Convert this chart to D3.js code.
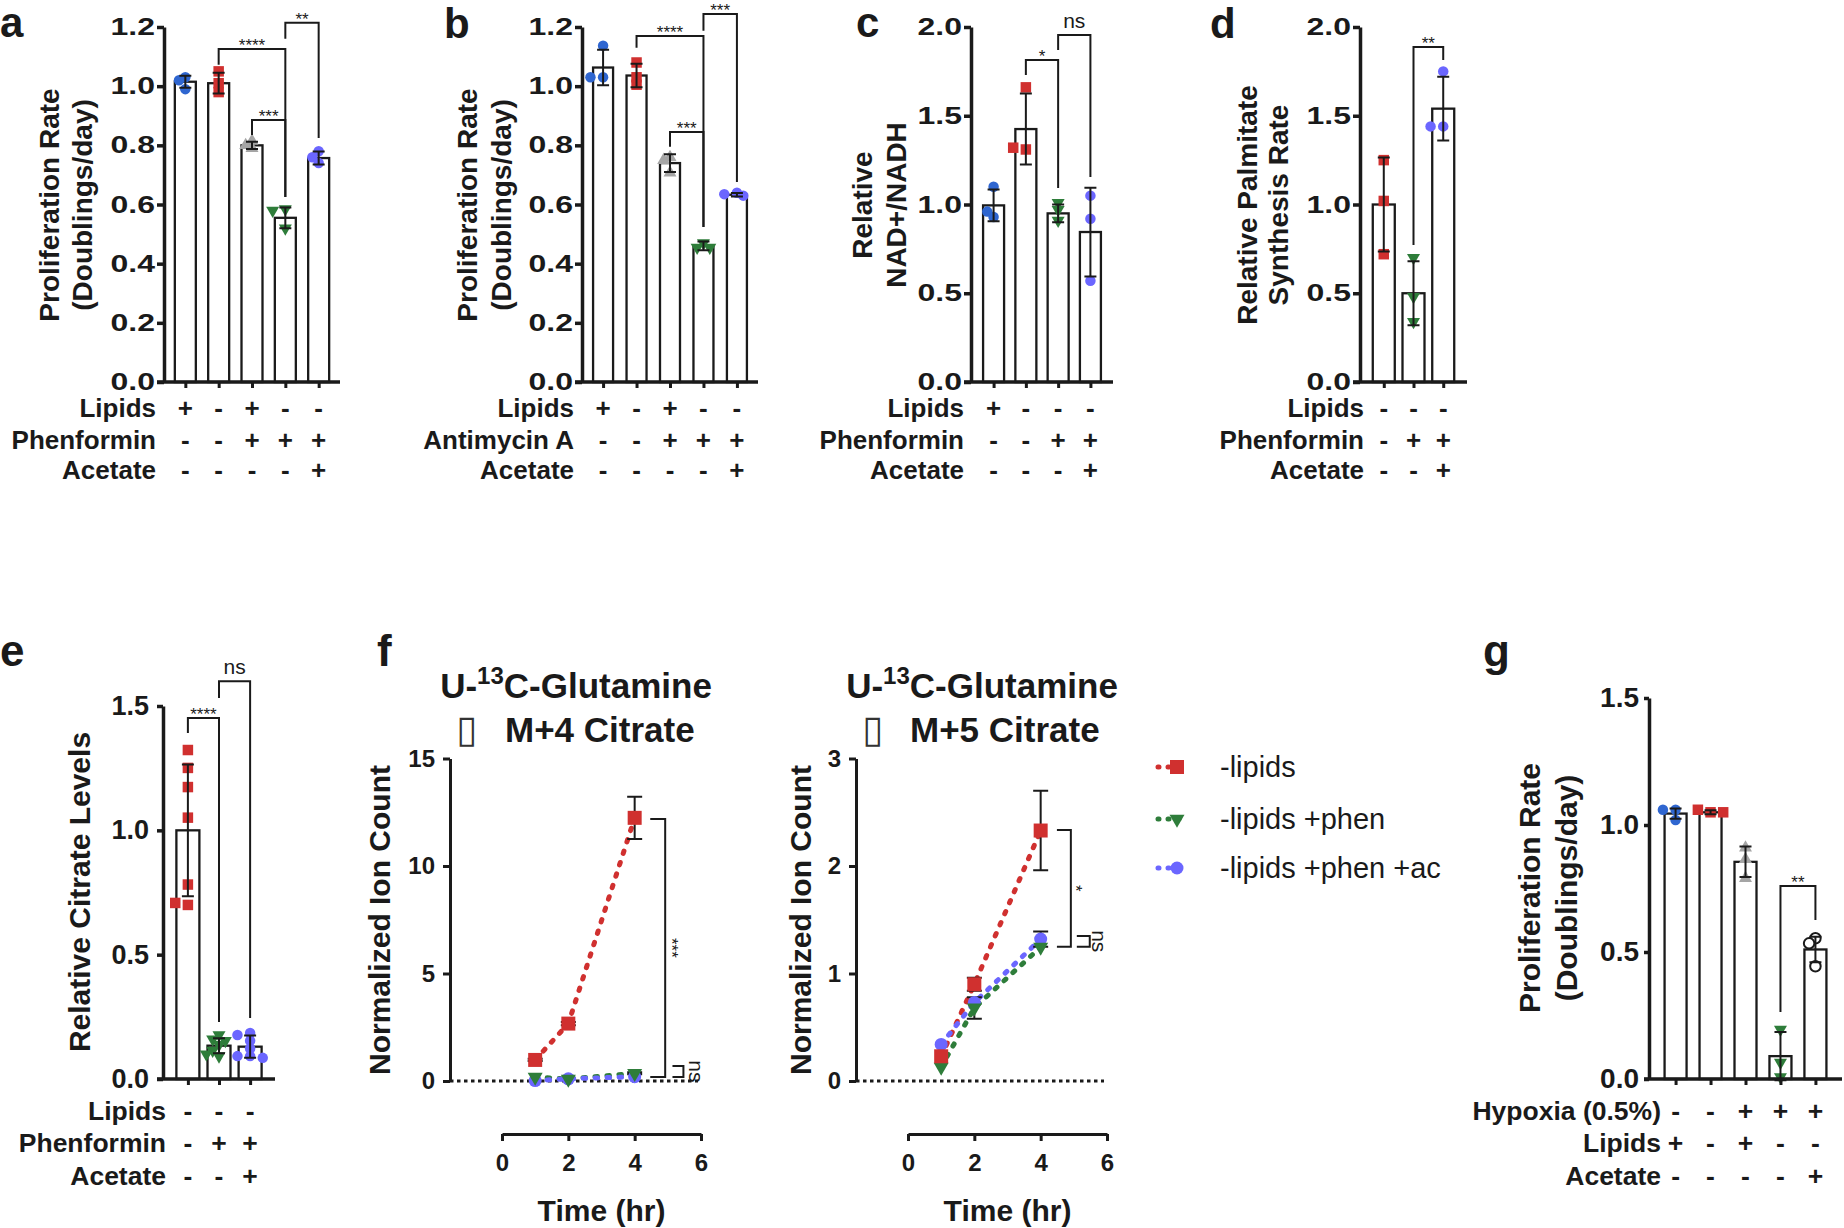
<!DOCTYPE html>
<html><head><meta charset="utf-8">
<script src="https://cdn.jsdelivr.net/npm/d3@7"></script>
<style>
body{margin:0;background:#fff;}
text{font-family:"Liberation Sans",Arial,Helvetica,sans-serif;fill:#1a1a1a;}
</style></head>
<body><svg id="fig" width="1844" height="1228"></svg>
<script>
// ================= DATA =================
const ticks12 = [0,0.2,0.4,0.6,0.8,1.0,1.2];
const ticks20 = [0,0.5,1.0,1.5,2.0];
const ticks15 = [0,0.5,1.0,1.5];

// panel a
const aGroups = ["ctrl","noLip","phenLip","phen","phenAc"];
const aMeans  = [1.015,1.01,0.80,0.555,0.757];
const aErr    = [0.02,0.035,0.012,0.035,0.022];
const aPoints = [[1.03,1.02,0.99],[1.05,1.01,0.98],[0.815,0.80,0.79],[0.585,0.58,0.52],[0.78,0.76,0.74]];
const aRowNames = ["Lipids","Phenformin","Acetate"];
const aRowSigns = [["+","-","+","-","-"],["-","-","+","+","+"],["-","-","-","-","+"]];
const aSig = [{from:1,to:3,top:1.126,l:1.072,r:0.625,text:"****"},
              {from:2,to:3,top:0.886,l:0.835,r:0.625,text:"***"},
              {from:3,to:4,top:1.214,l:1.16,r:0.825,text:"**"}];
const aYLabel = ["Proliferation Rate","(Doublings/day)"];

// panel b
const bGroups = ["ctrl","noLip","phenLip","phen","phenAc"];
const bMeans  = [1.063,1.036,0.74,0.46,0.633];
const bErr    = [0.06,0.04,0.03,0.015,0.006];
const bPoints = [[1.137,1.03,1.03],[1.08,1.005,1.03],[0.76,0.75,0.707],[0.47,0.455,0.455],[0.64,0.635,0.63]];
const bRowNames = ["Lipids","Antimycin A","Acetate"];
const bRowSigns = [["+","-","+","-","-"],["-","-","+","+","+"],["-","-","-","-","+"]];
const bSig = [{from:1,to:3,top:1.17,l:1.13,r:0.524,text:"****"},
              {from:2,to:3,top:0.845,l:0.795,r:0.524,text:"***"},
              {from:3,to:4,top:1.244,l:1.187,r:0.676,text:"***"}];
const bYLabel = ["Proliferation Rate","(Doublings/day)"];

// panel c
const cGroups = ["ctrl","noLip","phen","phenAc"];
const cMeans  = [0.995,1.425,0.95,0.845];
const cErr    = [0.09,0.2,0.05,0.25];
const cPoints = [[1.10,0.93,0.96],[1.66,1.31,1.32],[1.01,0.97,0.91],[1.05,0.92,0.57]];
const cRowNames = ["Lipids","Phenformin","Acetate"];
const cRowSigns = [["+","-","-","-"],["-","-","+","+"],["-","-","-","+"]];
const cSig = [{from:1,to:2,top:1.814,l:1.73,r:1.093,text:"*"},
              {from:2,to:3,top:1.955,l:1.87,r:1.155,text:"ns"}];
const cYLabel = ["Relative","NAD+/NADH"];

// panel d
const dGroups = ["noLip","phen","phenAc"];
const dMeans  = [1.0,0.5,1.54];
const dErr    = [0.265,0.18,0.18];
const dPoints = [[1.25,1.02,0.72],[0.70,0.48,0.34],[1.75,1.44,1.44]];
const dRowNames = ["Lipids","Phenformin","Acetate"];
const dRowSigns = [["-","-","-"],["-","+","+"],["-","-","+"]];
const dSig = [{from:1,to:2,top:1.887,l:0.772,r:1.814,text:"**"}];
const dYLabel = ["Relative Palmitate","Synthesis Rate"];

// panel e
const eGroups = ["noLip","phen","phenAc"];
const eMeans  = [1.0,0.134,0.13];
const eErr    = [0.265,0.03,0.045];
const ePoints = [[1.323,1.251,1.174,1.051,0.782,0.70,0.708],
                 [0.177,0.16,0.154,0.138,0.115,0.092,0.10],
                 [0.185,0.177,0.154,0.123,0.092,0.092,0.085]];
const eRowNames = ["Lipids","Phenformin","Acetate"];
const eRowSigns = [["-","-","-"],["-","+","+"],["-","-","+"]];
const eSig = [{from:0,to:1,top:1.452,l:1.391,r:0.229,text:"****"},
              {from:1,to:2,top:1.60,l:1.532,r:0.245,text:"ns"}];
const eYLabel = ["Relative Citrate Levels"];

// panel g
const gGroups = ["ctrl","noLip","phenLip","phen","open"];
const gMeans  = [1.045,1.05,0.855,0.09,0.51];
const gErr    = [0.02,0.008,0.06,0.095,0.05];
const gPoints = [[1.06,1.06,1.02],[1.05,1.06,1.05],[0.91,0.865,0.79],[0.195,0.065,0.008],[0.554,0.534,0.444]];
const gRowNames = ["Hypoxia (0.5%)","Lipids","Acetate"];
const gRowSigns = [["-","-","+","+","+"],["+","-","+","-","-"],["-","-","-","-","+"]];
const gSig = [{from:3,to:4,top:0.76,l:0.264,r:0.626,text:"**"}];
const gYLabel = ["Proliferation Rate","(Doublings/day)"];

// panel f (time course)
const timeHours = [1,2,4];
const timeTicks = [0,2,4,6];
const seriesNames = ["-lipids","-lipids +phen","-lipids +phen +ac"];
const seriesGroups = ["noLip","phen","phenAc"];
const m4Ticks = [0,5,10,15];
const m4Lipids = [0.98,2.67,12.24];   const m4LipidsErr = [0.05,0.08,0.98];
const m4Phen   = [0.18,0.09,0.36];    const m4PhenErr   = [0.03,0.02,0.05];
const m4PhenAc = [0.02,0.10,0.20];    const m4PhenAcErr = [0.02,0.02,0.03];
const m4Sig = [{top:12.19,bottom:0.19,text:"***"},{top:0.70,bottom:0.19,text:"ns"}];
const m5Ticks = [0,1,2,3];
const m5Lipids = [0.23,0.90,2.33];    const m5LipidsErr = [0.04,0.06,0.37];
const m5Phen   = [0.13,0.68,1.245];   const m5PhenErr   = [0.02,0.10,0.04];
const m5PhenAc = [0.34,0.73,1.32];    const m5PhenAcErr = [0.03,0.04,0.07];
const m5Sig = [{top:2.335,bottom:1.25,text:"*"},{top:1.35,bottom:1.25,text:"ns"}];

// ================= STYLE =================
const INK = "#1a1a1a";
const COLORS = {ctrl:"#2f66d0", noLip:"#d0302f", phenLip:"#a5a5a5", phen:"#2e7d3a", phenAc:"#6b66ff", open:"#ffffff"};
const SHAPES = {ctrl:"circle", noLip:"square", phenLip:"triUp", phen:"triDown", phenAc:"circle", open:"open"};
const svg = d3.select("#fig");

function drawMarker(g, shape, color, cx, cy, s) {
  let type, size, rot = 0, fill = color, stroke = "none", sw = 0;
  if (shape === "circle") { type = d3.symbolCircle; size = Math.PI*s.c*s.c/4; }
  else if (shape === "square") { type = d3.symbolSquare; size = s.s*s.s; }
  else if (shape === "triUp") { type = d3.symbolTriangle; size = Math.sqrt(3)/4*s.t*s.t; }
  else if (shape === "triDown") { type = d3.symbolTriangle; size = Math.sqrt(3)/4*s.t*s.t; rot = 180; }
  else { type = d3.symbolCircle; size = Math.PI*s.c*s.c/4; fill = "#fff"; stroke = INK; sw = 2; }
  g.append("path").attr("d", d3.symbol().type(type).size(size)())
    .attr("transform", `translate(${cx},${cy}) rotate(${rot})`)
    .attr("fill", fill).attr("stroke", stroke).attr("stroke-width", sw);
}

function errorBar(g, cx, yHi, yLo, cap, w) {
  g.append("path").attr("d", `M${cx-cap},${yHi}H${cx+cap}M${cx},${yHi}V${yLo}M${cx-cap},${yLo}H${cx+cap}`)
    .attr("fill","none").attr("stroke", INK).attr("stroke-width", w||2);
}

function dodge(vals, y, r) {
  const placed = [];
  return vals.map(v => {
    const py = y(v);
    let off = 0;
    for (const k of [0,-1,1,-2,2,-3,3]) {
      const ox = k*r*1.15;
      if (placed.every(p => Math.hypot(p[0]-ox, p[1]-py) >= r*1.25)) { off = ox; break; }
    }
    placed.push([off, py]);
    return {v, off};
  });
}

function styleAxis(sel, fontSize, stretch, w) {
  sel.select(".domain").attr("stroke", INK).attr("stroke-width", w);
  sel.selectAll(".tick line").attr("stroke", INK).attr("stroke-width", w);
  sel.selectAll(".tick text").attr("font-size", fontSize).attr("font-weight","bold")
    .attr("fill", INK).attr("font-family", '"Liberation Sans",Arial,sans-serif');
  if (stretch && stretch !== 1) {
    sel.selectAll(".tick text").each(function(){
      const len = this.getComputedTextLength();
      d3.select(this).attr("textLength", len*stretch).attr("lengthAdjust","spacingAndGlyphs");
    });
  }
}

const BAR_MARK = {c:10.5, s:10.5, t:13};

function barPanel(L, D) {
  const g = svg.append("g");
  const y = d3.scaleLinear().domain([0, L.yMax]).range([L.y0, L.yTop]);
  const x = d3.scalePoint().domain(d3.range(D.means.length)).range([L.axisX, L.xEnd]).padding(L.pad);
  g.append("g").selectAll("rect").data(D.means).join("rect")
    .attr("x", (d,i) => x(i)-L.barW/2).attr("y", d => y(d))
    .attr("width", L.barW).attr("height", d => y(0)-y(d))
    .attr("fill","#fff").attr("stroke", INK).attr("stroke-width", 2.3);
  D.points.forEach((vals, i) => {
    const grp = D.groups[i];
    dodge(vals, y, 5.5).forEach(p => drawMarker(g, SHAPES[grp], COLORS[grp], x(i)+p.off, y(p.v), BAR_MARK));
  });
  D.means.forEach((m, i) => errorBar(g, x(i), y(m+D.err[i]), y(m-D.err[i]), 6, 2));
  const ya = g.append("g").attr("transform", `translate(${L.axisX},0)`)
    .call(d3.axisLeft(y).tickValues(D.ticks).tickFormat(d3.format(".1f"))
      .tickSize(L.tick).tickPadding(L.tickPad).tickSizeOuter(0));
  styleAxis(ya, L.tickFont, L.stretch, 3.5);
  const xa = g.append("g").attr("transform", `translate(0,${y(0)})`)
    .call(d3.axisBottom(x).tickSize(6).tickFormat("").tickSizeOuter(0));
  xa.select(".domain").remove();
  xa.selectAll(".tick line").attr("stroke", INK).attr("stroke-width", 3);
  g.append("line").attr("x1", L.axisX-L.tick).attr("x2", L.xEnd)
    .attr("y1", y(0)).attr("y2", y(0)).attr("stroke", INK).attr("stroke-width", 3.5);
  D.rowNames.forEach((nm, r) => {
    g.append("text").attr("x", L.rowX).attr("y", L.rowY[r]).attr("dy","0.36em")
      .attr("text-anchor","end").attr("font-weight","bold").attr("font-size", L.rowFont).text(nm);
    D.rowSigns[r].forEach((s, i) => g.append("text").attr("x", x(i)).attr("y", L.rowY[r]).attr("dy","0.36em")
      .attr("text-anchor","middle").attr("font-weight","bold").attr("font-size", L.rowFont).text(s));
  });
  D.sig.forEach(b => {
    const x1 = x(b.from), x2 = x(b.to);
    g.append("path").attr("d", `M${x1},${y(b.l)}V${y(b.top)}H${x2}V${y(b.r)}`)
      .attr("fill","none").attr("stroke", INK).attr("stroke-width", 2);
    const ns = b.text === "ns";
    g.append("text").attr("x", (x1+x2)/2).attr("y", y(b.top) + (ns ? -7 : 2))
      .attr("text-anchor","middle").attr("font-size", ns ? 21 : 17).attr("fill","#333").text(b.text);
  });
  D.yLabel.forEach((t, k) => g.append("text")
    .attr("transform", `translate(${L.yLabelX[k]},${L.yLabelCY}) rotate(-90)`)
    .attr("text-anchor","middle").attr("font-weight","bold").attr("font-size", L.labelFont).text(t));
  g.append("text").attr("x", L.letter[0]).attr("y", L.letter[1]).attr("font-size", L.letterFont || 44)
    .attr("font-weight","bold").attr("fill","#000").text(L.letterText);
}

const TOP = {y0:382, yTop:27, tick:7, tickPad:2, tickFont:23.5, stretch:1.36, rowY:[408,440,470], rowFont:26, yLabelCY:205, labelFont:28, letterFont:42};
const BOT = {y0:1079, tick:6, tickPad:8, tickFont:27, stretch:1, rowY:[1110,1142,1175], rowFont:26.5, labelFont:30};

barPanel(Object.assign({}, TOP, {axisX:164, xEnd:340, pad:0.64, yMax:1.2, barW:21, rowX:156, yLabelX:[59,92], letter:[0,37], letterText:"a"}),
  {groups:aGroups, means:aMeans, err:aErr, points:aPoints, ticks:ticks12, rowNames:aRowNames, rowSigns:aRowSigns, sig:aSig, yLabel:aYLabel});
barPanel(Object.assign({}, TOP, {axisX:582, xEnd:758, pad:0.63, yMax:1.2, barW:20, rowX:574, yLabelX:[477,511], letter:[444,38], letterText:"b"}),
  {groups:bGroups, means:bMeans, err:bErr, points:bPoints, ticks:ticks12, rowNames:bRowNames, rowSigns:bRowSigns, sig:bSig, yLabel:bYLabel});
barPanel(Object.assign({}, TOP, {axisX:971, xEnd:1113, pad:0.7, yMax:2.0, barW:21, rowX:964, yLabelX:[872,906], letter:[856,37], letterText:"c"}),
  {groups:cGroups, means:cMeans, err:cErr, points:cPoints, ticks:ticks20, rowNames:cRowNames, rowSigns:cRowSigns, sig:cSig, yLabel:cYLabel});
barPanel(Object.assign({}, TOP, {axisX:1360, xEnd:1467, pad:0.8, yMax:2.0, barW:22, rowX:1364, yLabelX:[1257,1288], letter:[1210,38], letterText:"d"}),
  {groups:dGroups, means:dMeans, err:dErr, points:dPoints, ticks:ticks20, rowNames:dRowNames, rowSigns:dRowSigns, sig:dSig, yLabel:dYLabel});
barPanel(Object.assign({}, BOT, {axisX:163, xEnd:275, pad:0.8, yTop:706, yMax:1.5, barW:23, rowX:166, yLabelX:[90], yLabelCY:892, letter:[0,666], letterText:"e"}),
  {groups:eGroups, means:eMeans, err:eErr, points:ePoints, ticks:ticks15, rowNames:eRowNames, rowSigns:eRowSigns, sig:eSig, yLabel:eYLabel});
barPanel(Object.assign({}, BOT, {axisX:1649, xEnd:1842, pad:0.76, yTop:698, yMax:1.5, barW:22, tick:5, tickPad:5, tickFont:28, rowX:1661, yLabelX:[1540,1577], yLabelCY:888, letter:[1483,666], letterText:"g"}),
  {groups:gGroups, means:gMeans, err:gErr, points:gPoints, ticks:ticks15, rowNames:gRowNames, rowSigns:gRowSigns, sig:gSig, yLabel:gYLabel});

// ================= LINE PANELS =================
const LINE_MARK = {c:13, s:14, t:15};
function linePanel(L, D) {
  const g = svg.append("g");
  const x = d3.scaleLinear().domain([0,6]).range([L.x0, L.x6]);
  const y = d3.scaleLinear().domain([0, L.yMax]).range([1081, 758.5]);
  g.append("line").attr("x1", L.axisX).attr("x2", L.zeroEnd).attr("y1", y(0)).attr("y2", y(0))
    .attr("stroke", INK).attr("stroke-width", 3).attr("stroke-dasharray","3.5,3.5");
  const ya = g.append("g").attr("transform", `translate(${L.axisX},0)`)
    .call(d3.axisLeft(y).tickValues(D.yTicks).tickFormat(d3.format("d")).tickSize(7).tickPadding(8).tickSizeOuter(0));
  styleAxis(ya, 24, 1, 3);
  const xa = g.append("g").attr("transform", `translate(0,1134)`)
    .call(d3.axisBottom(x).tickValues(timeTicks).tickFormat(d3.format("d")).tickSize(7).tickPadding(13).tickSizeOuter(0));
  styleAxis(xa, 24, 1, 3);
  g.append("text").attr("x", (L.x0+L.x6)/2).attr("y", 1221).attr("text-anchor","middle")
    .attr("font-weight","bold").attr("font-size", 30).text("Time (hr)");
  g.append("text").attr("transform", `translate(${L.yLabelX},920) rotate(-90)`).attr("text-anchor","middle")
    .attr("font-weight","bold").attr("font-size", 30).text("Normalized Ion Count");
  const t1 = g.append("text").attr("x", L.titleCX).attr("y", 698).attr("text-anchor","middle")
    .attr("font-weight","bold").attr("font-size", 35);
  t1.append("tspan").text("U-");
  t1.append("tspan").attr("font-size", 24).attr("dy", -14).text("13");
  t1.append("tspan").attr("dy", 14).text("C-Glutamine");
  const t2 = g.append("text").attr("y", 742).attr("font-weight","bold").attr("font-size", 35);
  t2.append("tspan").attr("x", L.boxX).attr("font-family","DejaVu Sans").attr("font-weight","normal")
    .attr("font-size", 38).attr("fill","#333").text("\u25AF");
  t2.append("tspan").attr("x", L.titleX2).text(D.title2);
  const line = d3.line().x(d => x(d.t)).y(d => y(d.v));
  D.series.forEach((s, k) => {
    g.append("path").datum(timeHours.map((t, i) => ({t, v:s.v[i]})))
      .attr("d", line).attr("fill","none").attr("stroke", COLORS[seriesGroups[k]])
      .attr("stroke-width", 5).attr("stroke-linecap","round").attr("stroke-dasharray","2.5,9.5");
  });
  D.series.forEach(s => timeHours.forEach((t, i) => {
    if (s.e[i] > 0.045) errorBar(g, x(t), y(s.v[i]+s.e[i]), y(s.v[i]-s.e[i]), 7.5, 2);
  }));
  [2,1,0].forEach(k => {
    const s = D.series[k], grp = seriesGroups[k];
    timeHours.forEach((t, i) => drawMarker(g, SHAPES[grp], COLORS[grp], x(t), y(s.v[i]), LINE_MARK));
  });
  D.sig.forEach((b, k) => {
    const xb = x(L.sigX[k]), xh = x(L.sigX0[k]);
    g.append("path").attr("d", `M${xh},${y(b.top)}H${xb}V${y(b.bottom)}H${xh}`)
      .attr("fill","none").attr("stroke", INK).attr("stroke-width", 2);
    const ns = b.text === "ns";
    g.append("text").attr("transform", `translate(${x(L.sigT[k])},${(y(b.top)+y(b.bottom))/2}) rotate(90)`)
      .attr("text-anchor","middle").attr("dy", ns ? "0.3em" : "0.55em").attr("font-size", ns ? 21 : 17)
      .attr("fill","#333").text(b.text);
  });
  if (L.letterText) g.append("text").attr("x", L.letter[0]).attr("y", L.letter[1]).attr("font-size", 44)
    .attr("font-weight","bold").attr("fill","#000").text(L.letterText);
  return g;
}

linePanel({axisX:450, x0:502, x6:701, zeroEnd:698, yMax:15, yLabelX:390, titleCX:576, boxX:456, titleX2:505,
           sigX:[4.92,5.47], sigX0:[4.47,5.14], sigT:[5.23,5.83], letter:[377,666], letterText:"f"},
  {yTicks:m4Ticks, title2:"M+4 Citrate", sig:m4Sig,
   series:[{v:m4Lipids,e:m4LipidsErr},{v:m4Phen,e:m4PhenErr},{v:m4PhenAc,e:m4PhenAcErr}]});
linePanel({axisX:856, x0:908, x6:1107, zeroEnd:1104, yMax:3, yLabelX:811, titleCX:982, boxX:862, titleX2:910,
           sigX:[4.91,5.48], sigX0:[4.49,5.09], sigT:[5.18,5.75]},
  {yTicks:m5Ticks, title2:"M+5 Citrate", sig:m5Sig,
   series:[{v:m5Lipids,e:m5LipidsErr},{v:m5Phen,e:m5PhenErr},{v:m5PhenAc,e:m5PhenAcErr}]});

// legend
const legY = [767, 819, 868];
const lg = svg.append("g");
seriesNames.forEach((nm, k) => {
  const grp = seriesGroups[k];
  lg.append("line").attr("x1", 1158).attr("x2", 1188).attr("y1", legY[k]).attr("y2", legY[k])
    .attr("stroke", COLORS[grp]).attr("stroke-width", 5).attr("stroke-linecap","round").attr("stroke-dasharray","1,9");
  drawMarker(lg, SHAPES[grp], COLORS[grp], 1177, legY[k], LINE_MARK);
  lg.append("text").attr("x", 1220).attr("y", legY[k]).attr("dy","0.36em").attr("font-size", 29).text(nm);
});
</script>
</body></html>
